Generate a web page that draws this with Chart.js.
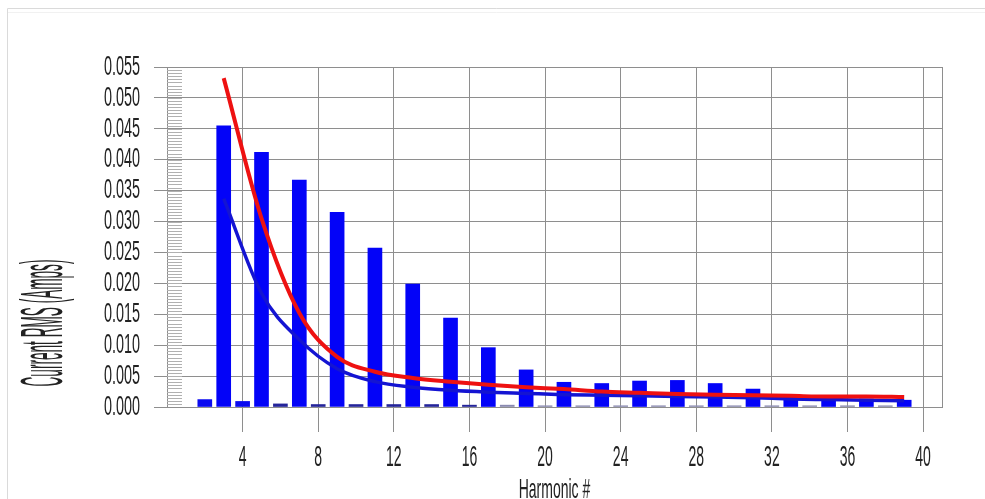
<!DOCTYPE html>
<html>
<head>
<meta charset="utf-8">
<script src="https://cdn.jsdelivr.net/npm/chart.js@4.4.1/dist/chart.umd.min.js"></script>
<style>
html,body{margin:0;padding:0;background:#fff;overflow:hidden}
#wrap{position:relative;width:985px;height:499px}
</style>
</head>
<body>
<div id="wrap"><canvas id="c" width="985" height="499"></canvas></div>
<script>
// ---- data ----
const oddHarmonics = [3,5,7,9,11,13,15,17,19,21,23,25,27,29,31,33,35,37,39];
const oddBarValues = [0.0455,0.0412,0.0367,0.0315,0.0257,0.0199,0.0144,0.0096,0.0060,0.0040,0.0038,0.0042,0.0043,0.0038,0.0029,0.0017,0.0013,0.0013,0.0011];
const evenHarmonics = [2,4,6,8,10,12,14,16,18,20,22,24,26,28,30,32,34,36,38];
const evenBarValues = [0.0012,0.0009,0.0005,0.0004,0.0004,0.0004,0.0004,0.0003,0.0003,0.0002,0.0002,0.0002,0.0002,0.0002,0.0002,0.0002,0.0002,0.0002,0.0002];
const redLineValues = [0.0532,0.0305,0.0152,0.0081,0.0057,0.0047,0.0041,0.0036,0.0032,0.0029,0.0025,0.0023,0.0021,0.0020,0.0019,0.0018,0.0017,0.0017,0.0016];
const blueLineValues = [0.0337,0.0184,0.0109,0.0062,0.0041,0.0032,0.0027,0.0024,0.0022,0.0020,0.0019,0.0018,0.0017,0.0016,0.0015,0.0013,0.0012,0.0011,0.0010];
const xTickValues = [4,8,12,16,20,24,28,32,36,40];
const yTickValues = [0,0.005,0.010,0.015,0.020,0.025,0.030,0.035,0.040,0.045,0.050,0.055];
const yMinorStep = 0.0005;
const xTitle = 'Harmonic #';
const yTitle = 'Current RMS (Amps)';

// ---- style ----
const FONT = "'Liberation Sans', Arial, sans-serif";
const TEXT = '#222222';
const GRID = '#8e8e8e';

const pts = (xs, ys) => xs.map((x, i) => ({x: x, y: ys[i]}));

function stretchText(scale, method, sx, sy, dx, dy) {
  const orig = scale[method];
  scale[method] = function () {
    const ctx = this.ctx;
    const proto = Object.getPrototypeOf(ctx).translate;
    ctx.translate = function (x, y) {
      proto.call(ctx, x + dx, y + dy);
      ctx.scale(sx, sy);
    };
    try { return orig.apply(this, arguments); }
    finally { delete ctx.translate; }
  };
}

const decor = {
  id: 'decor',
  beforeDraw(chart) {
    const ctx = chart.ctx;
    ctx.save();
    ctx.fillStyle = '#ffffff';
    ctx.fillRect(0, 0, chart.width, chart.height);
    ctx.lineWidth = 1;
    ctx.strokeStyle = '#dadada';
    ctx.beginPath();
    ctx.moveTo(7.5, chart.height); ctx.lineTo(7.5, 8.5); ctx.lineTo(chart.width, 8.5);
    ctx.stroke();
    ctx.strokeStyle = '#f1f1f1';
    ctx.beginPath(); ctx.moveTo(8, 12.5); ctx.lineTo(chart.width, 12.5); ctx.stroke();
    ctx.restore();
    const {x, y} = chart.scales;
    if (!x._stretched) {
      stretchText(x, 'drawLabels', 1, 2.1, 0, 0);
      stretchText(x, 'drawTitle', 1, 2.0, 0, 0);
      x._stretched = true;
    }
    if (!y._stretched) {
      stretchText(y, 'drawLabels', 1, 1.95, 0, 0);
      stretchText(y, 'drawTitle', 4.4, 1, 39, 86);
      y._stretched = true;
    }
  },
  beforeDatasetsDraw(chart) {
    const {ctx, chartArea, scales} = chart;
    const y = scales.y, x = scales.x;
    ctx.save();
    ctx.lineWidth = 1;
    ctx.strokeStyle = '#b0b0b0';
    ctx.beginPath();
    const n = Math.round(y.max / yMinorStep);
    for (let i = 1; i < n; i++) {
      const py = Math.round(y.getPixelForValue(i * yMinorStep)) + 0.5;
      ctx.moveTo(chartArea.left, py);
      ctx.lineTo(chartArea.left + 15, py);
    }
    ctx.stroke();
    ctx.strokeStyle = GRID;
    ctx.beginPath();
    const px = Math.round(x.getPixelForValue(x.max)) + 0.5;
    ctx.moveTo(px, chartArea.top); ctx.lineTo(px, chartArea.bottom);
    ctx.stroke();
    ctx.restore();
  }
};

new Chart(document.getElementById('c'), {
  type: 'bar',
  data: {
    datasets: [
      {
        type: 'line', label: 'Limit', data: pts(oddHarmonics, redLineValues),
        borderColor: '#ee1111', borderWidth: 4, pointRadius: 0,
        cubicInterpolationMode: 'monotone', fill: false
      },
      {
        type: 'line', label: 'Fit', data: pts(oddHarmonics, blueLineValues),
        borderColor: '#1414d2', borderWidth: 3.5, pointRadius: 0,
        cubicInterpolationMode: 'monotone', fill: false
      },
      {
        type: 'bar', label: 'Odd', data: pts(oddHarmonics, oddBarValues),
        backgroundColor: '#0303f8', borderWidth: 0, barThickness: 14, grouped: false
      },
      {
        type: 'bar', label: 'Even', data: pts(evenHarmonics, evenBarValues),
        backgroundColor: c => (c.raw && c.raw.x <= 4) ? '#0a0af0' : (c.raw && c.raw.x <= 16 ? '#24249a' : '#8a8ab0'),
        borderWidth: 0, barThickness: 14, grouped: false
      }
    ]
  },
  options: {
    responsive: false,
    animation: false,
    devicePixelRatio: 1,
    layout: { padding: { left: 0, top: 67, right: 43, bottom: 0 } },
    plugins: { legend: { display: false }, tooltip: { enabled: false } },
    scales: {
      x: {
        type: 'linear', min: 0, max: 41, offset: false,
        afterBuildTicks: s => { s.ticks = xTickValues.map(v => ({ value: v })); },
        afterFit: s => { s.height = 92; },
        grid: { offset: false, color: GRID, lineWidth: 1, tickLength: 25, drawTicks: true, tickColor: GRID },
        border: { display: true, color: GRID },
        ticks: {
          font: { family: FONT, size: 14, lineHeight: 1 }, color: TEXT, padding: 11,
          maxRotation: 0, autoSkip: false, callback: v => String(v)
        },
        title: {
          display: true, text: xTitle, color: TEXT,
          font: { family: FONT, size: 14, lineHeight: 1 }, padding: { top: 0, bottom: 2 }
        }
      },
      y: {
        type: 'linear', min: 0, max: 0.055,
        afterBuildTicks: s => { s.ticks = yTickValues.map(v => ({ value: v })); },
        afterFit: s => { s.width = 167; },
        grid: { color: GRID, lineWidth: 1, tickLength: 13, drawTicks: true, tickColor: GRID },
        border: { display: true, color: GRID },
        ticks: {
          font: { family: FONT, size: 14.4, lineHeight: 1 }, color: TEXT, padding: 14,
          autoSkip: false, callback: v => v.toFixed(3)
        },
        title: {
          display: true, text: yTitle, color: TEXT,
          font: { family: FONT, size: 13.6, lineHeight: 1 }, padding: 0
        }
      }
    }
  },
  plugins: [decor]
});
</script>
</body>
</html>
